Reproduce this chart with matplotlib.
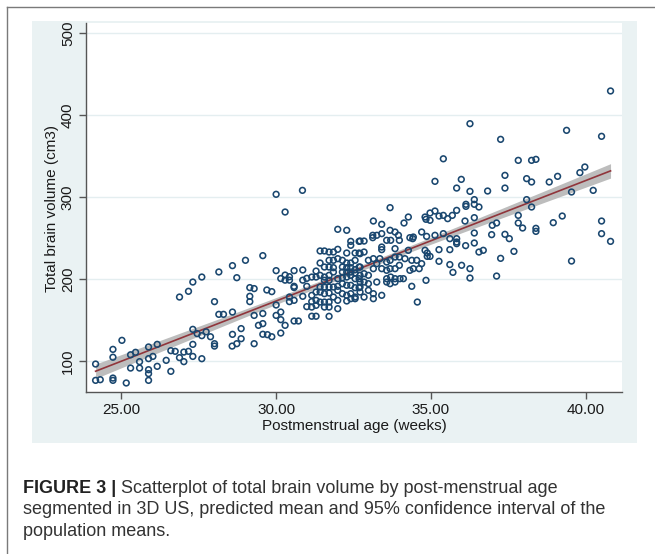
import numpy as np
import matplotlib.pyplot as plt
from matplotlib.lines import Line2D
from matplotlib.patches import Rectangle

plt.rcParams['font.family'] = ['Liberation Sans', 'DejaVu Sans']

# points: (postmenstrual age in weeks, total brain volume in cm3)
early_pts = [
    (24.17, 96.7), (24.17, 76.8), (24.32, 77.6), (24.73, 114.6), (24.73, 105.0), (24.73, 79.6),
    (24.73, 76.8), (25.02, 125.6), (25.16, 73.6), (25.30, 108.0), (25.46, 111.0), (25.30, 91.8),
    (25.59, 91.8), (25.59, 99.6), (25.88, 117.5), (25.88, 103.3), (25.88, 89.8), (25.88, 85.0),
    (25.88, 76.8), (26.16, 120.7), (26.16, 93.9), (26.02, 106.0), (26.45, 101.2), (26.60, 113.0),
    (26.74, 112.2), (26.60, 87.8), (26.88, 178.4), (26.88, 104.5), (27.02, 99.6), (27.02, 111.3),
    (27.17, 112.2), (27.17, 185.4), (27.31, 196.7), (27.60, 202.8), (27.31, 139.0), (27.31, 120.7),
    (27.31, 106.0), (27.45, 133.8), (27.60, 131.3), (27.60, 103.2), (27.74, 136.0), (27.88, 130.0),
    (28.01, 172.8), (28.01, 121.5), (28.01, 118.6), (28.15, 209.0), (28.15, 157.3), (28.30, 157.3),
    (28.58, 118.6),
]

mid_pts = [
    (28.59, 216.7), (28.73, 202.0), (29.01, 223.2), (29.57, 228.9), (29.15, 189.9), (29.29, 188.7),
    (29.15, 179.3), (29.15, 172.8), (28.59, 160.1), (28.59, 132.9), (28.73, 121.5), (28.87, 139.9),
    (28.87, 127.6), (29.29, 121.5), (29.29, 156.0), (29.57, 158.3), (29.57, 146.0), (29.57, 133.0),
    (29.43, 143.9), (29.70, 187.0), (29.86, 185.0), (29.72, 132.5), (29.86, 130.0), (30.00, 168.7),
    (30.00, 156.0), (30.15, 160.1), (30.15, 150.8), (30.15, 134.5), (30.29, 143.9), (30.00, 210.6),
    (30.15, 201.0), (30.29, 205.2), (30.43, 203.2), (30.29, 199.0), (30.43, 199.0), (30.58, 210.6),
    (30.58, 191.5), (30.58, 190.0), (30.43, 178.4), (30.43, 172.8), (30.58, 174.4), (30.58, 149.2),
    (30.72, 149.2), (30.86, 211.4), (30.86, 199.0), (30.99, 201.2), (30.99, 191.5), (30.86, 179.3),
    (31.15, 180.5), (31.15, 172.8), (31.15, 155.0), (31.29, 155.0), (30.99, 166.7),
    (30.00, 303.7), (30.85, 308.5), (30.29, 282.1),
    (31.42, 234.6), (31.56, 234.6), (31.71, 233.3), (31.85, 233.3), (31.99, 236.6), (31.99, 261.0),
    (32.28, 259.8), (32.41, 246.3), (32.68, 246.3), (32.41, 241.5), (32.28, 232.1), (32.55, 232.1),
    (32.68, 232.1), (31.42, 219.9), (31.71, 223.2), (31.85, 223.2), (31.99, 225.2), (32.14, 223.2),
    (32.28, 219.9), (32.41, 219.9), (32.55, 223.2), (31.56, 215.0), (31.71, 215.0), (31.85, 214.2),
    (32.14, 215.0), (32.28, 214.2), (32.41, 214.2), (32.55, 211.8), (32.68, 215.0), (31.29, 210.1),
    (31.42, 204.9), (31.56, 202.8), (31.71, 204.9), (31.85, 208.9), (32.14, 208.9), (32.28, 208.9),
    (32.41, 208.9), (32.55, 207.7), (31.15, 202.8), (31.29, 202.8), (31.56, 198.8), (31.71, 198.8),
    (31.99, 200.8), (32.14, 202.0), (32.28, 202.8), (32.41, 204.9), (32.55, 200.8), (32.68, 200.8),
    (31.42, 190.6), (31.56, 190.6), (31.71, 190.6), (31.85, 190.6), (31.99, 191.5), (32.14, 194.7),
    (32.28, 192.7), (32.41, 192.7), (32.55, 189.8), (32.68, 189.8), (31.29, 184.5), (31.42, 184.5),
    (31.56, 182.5), (31.71, 183.3), (31.99, 186.6), (32.14, 182.5), (32.28, 180.5), (32.41, 182.5),
    (32.55, 178.4), (31.29, 174.4), (31.42, 172.3), (31.56, 172.3), (31.71, 172.3), (31.85, 178.4),
    (31.99, 174.4), (32.28, 173.6), (32.41, 176.4), (32.55, 176.4), (31.15, 166.2), (31.29, 168.3),
    (31.56, 166.2), (31.71, 166.2), (31.99, 164.2), (31.71, 154.9),
]

late_pts = [
    (35.40, 347.0), (35.13, 319.5), (35.83, 311.3), (33.68, 287.4), (33.14, 271.1), (33.41, 267.1),
    (34.13, 268.7), (34.27, 276.0), (34.81, 276.0), (34.97, 280.9), (35.13, 283.3), (34.84, 273.2),
    (34.97, 272.0), (35.26, 277.2), (35.40, 278.0), (35.54, 274.0), (35.69, 278.0), (35.83, 284.1),
    (35.83, 249.6), (35.83, 245.5), (35.83, 243.5), (34.43, 251.6), (34.70, 257.7), (34.86, 252.4),
    (35.13, 253.7), (35.40, 255.7), (35.61, 249.6), (33.12, 253.7), (33.12, 250.8), (33.25, 253.7),
    (33.41, 255.7), (33.68, 259.8), (33.84, 257.7), (33.95, 253.7), (33.98, 247.6), (33.70, 247.6),
    (33.57, 247.6), (33.84, 237.4), (34.32, 250.8), (34.41, 249.6), (33.41, 239.4), (33.41, 236.2),
    (32.71, 246.7), (32.84, 246.7), (34.81, 235.4), (34.88, 232.1), (34.88, 228.0), (34.97, 228.0),
    (35.26, 236.2), (35.61, 236.2), (32.71, 231.3), (32.84, 233.3), (32.98, 223.2), (33.14, 225.2),
    (33.25, 219.1), (33.35, 225.2), (33.57, 221.1), (33.68, 223.2), (33.84, 227.2), (33.98, 227.2),
    (33.98, 217.1), (34.16, 225.2), (34.27, 235.4), (34.38, 223.2), (34.54, 223.2), (34.70, 219.1),
    (34.32, 211.0), (34.43, 213.0), (34.62, 213.0), (33.84, 213.0), (33.68, 213.0), (33.41, 213.0),
    (33.14, 213.0), (33.57, 211.0), (32.98, 204.9), (32.71, 204.9), (32.84, 206.9), (32.71, 215.0),
    (32.71, 196.7), (32.84, 196.7), (32.98, 194.7), (33.25, 196.7), (33.57, 200.8), (33.70, 202.8),
    (33.84, 200.8), (34.00, 200.8), (34.11, 200.8), (33.57, 196.7), (33.68, 194.7), (33.84, 196.7),
    (32.71, 190.6), (32.71, 184.5), (32.98, 186.6), (33.14, 182.5), (32.84, 178.4), (33.14, 176.4),
    (33.41, 180.5), (34.38, 191.5), (34.84, 198.8), (34.56, 172.3), (35.26, 222.0), (35.61, 218.0),
    (35.71, 208.5),
]

term_pts = [
    (36.26, 389.8), (37.25, 370.7), (39.38, 381.7), (40.51, 374.4), (37.82, 345.1), (38.25, 345.1),
    (38.39, 346.3), (35.98, 321.9), (37.39, 326.8), (37.39, 311.3), (38.09, 322.8), (38.25, 318.7),
    (38.82, 318.7), (39.09, 325.6), (39.81, 330.1), (39.97, 337.0), (36.26, 307.3), (36.83, 307.7),
    (39.54, 306.5), (40.24, 308.5), (36.13, 291.5), (36.13, 289.0), (36.40, 297.2), (36.40, 291.5),
    (36.55, 288.2), (38.09, 297.2), (38.25, 288.2), (37.82, 278.0), (37.82, 268.7), (37.96, 262.6),
    (39.24, 277.2), (38.95, 269.1), (40.51, 271.1), (40.51, 255.7), (40.80, 246.3), (39.54, 222.3),
    (38.39, 262.2), (38.39, 258.5), (37.39, 254.9), (37.53, 249.6), (37.68, 234.1), (37.25, 225.6),
    (37.12, 204.0), (37.12, 268.7), (36.98, 265.9), (36.96, 254.5), (36.40, 275.2), (36.10, 271.1),
    (36.40, 256.5), (36.12, 241.1), (36.40, 244.3), (36.55, 233.3), (36.69, 235.4), (35.99, 217.1),
    (36.26, 213.0), (36.26, 201.6), (40.80, 429.7),
]

x_ticks = [25, 30, 35, 40]
y_ticks = [100, 200, 300, 400, 500]

pts = np.array(early_pts + mid_pts + late_pts + term_pts)
age, vol = pts[:, 0], pts[:, 1]

# linear fit with 95% CI of the mean (same idea as Stata lfitci)
n = len(age)
slope, icpt = np.polyfit(age, vol, 1)
resid = vol - (icpt + slope * age)
s_res = np.sqrt(np.sum(resid ** 2) / (n - 2))
xx = np.linspace(age.min(), age.max(), 200)
yy = icpt + slope * xx
se = s_res * np.sqrt(1 / n + (xx - age.mean()) ** 2 / np.sum((age - age.mean()) ** 2))
lo, hi = yy - 1.966 * se, yy + 1.966 * se

W, H = 655, 554
fig = plt.figure(figsize=(W / 100, H / 100), dpi=100)

def fx(px):
    return px / W

def fy(py):
    return 1 - py / H

# outer frame (only top and left visible) and Stata-like panel behind the axes
fig.add_artist(Line2D([fx(7), fx(7)], [fy(7), 0], color='#7a7a7a', lw=1.0))
fig.add_artist(Line2D([fx(7), 1], [fy(7), fy(7)], color='#7a7a7a', lw=1.0))
fig.add_artist(Rectangle((fx(32), fy(443)), fx(637) - fx(32), fy(21) - fy(443),
                         transform=fig.transFigure, facecolor='#eaf2f3',
                         edgecolor='none', zorder=-1))

ax = fig.add_axes([fx(86), fy(392), fx(622) - fx(86), fy(23) - fy(392)])
ax.set_zorder(1)
ax.set_facecolor('white')

ax.fill_between(xx, lo, hi, color='#bdbdbd', lw=0, zorder=2)
ax.plot(xx, yy, color='#90353b', lw=1.2, zorder=3)
ax.scatter(age, vol, s=17, facecolors='none', edgecolors='#1a476f', linewidths=1.15, zorder=4)

ax.set_xlim(23.86, 41.17)
ax.set_ylim(62.6, 512.6)
ax.set_xticks(x_ticks)
ax.set_xticklabels([f'{v:.2f}' for v in x_ticks])
ax.set_yticks(y_ticks)
ax.set_yticklabels([str(v) for v in y_ticks], rotation=90, va='center')

ax.yaxis.grid(True, color='#e4eef0', lw=1.0)
ax.set_axisbelow(True)
for side in ['top', 'right']:
    ax.spines[side].set_visible(False)
for side in ['left', 'bottom']:
    ax.spines[side].set_color('#555555')
    ax.spines[side].set_linewidth(1.0)
ax.tick_params(length=5, width=1.0, color='#555555', labelsize=11, labelcolor='#1a1a1a', pad=3)

fig.text(fx(52), fy(208), 'Total brain volume (cm3)', rotation=90, ha='center', va='center',
         fontsize=11, color='#1a1a1a')
fig.text(fx(354), fy(430), 'Postmenstrual age (weeks)', ha='center', va='baseline',
         fontsize=11, color='#1a1a1a')

# caption below the graph
cap_size = 13
t_bold = fig.text(fx(23), fy(492.7), 'FIGURE 3 |', fontsize=cap_size, fontweight='bold',
                  color='#222222', va='baseline')
fig.canvas.draw()
bb = t_bold.get_window_extent(renderer=fig.canvas.get_renderer())
fig.text(bb.x1 / W + fx(5), fy(492.7), 'Scatterplot of total brain volume by post-menstrual age',
         fontsize=cap_size, color='#333333', va='baseline')
fig.text(fx(23), fy(514.2), 'segmented in 3D US, predicted mean and 95% confidence interval of the',
         fontsize=cap_size, color='#333333', va='baseline')
fig.text(fx(23), fy(535.7), 'population means.', fontsize=cap_size, color='#333333', va='baseline')

fig.savefig('out.png', dpi=100)
